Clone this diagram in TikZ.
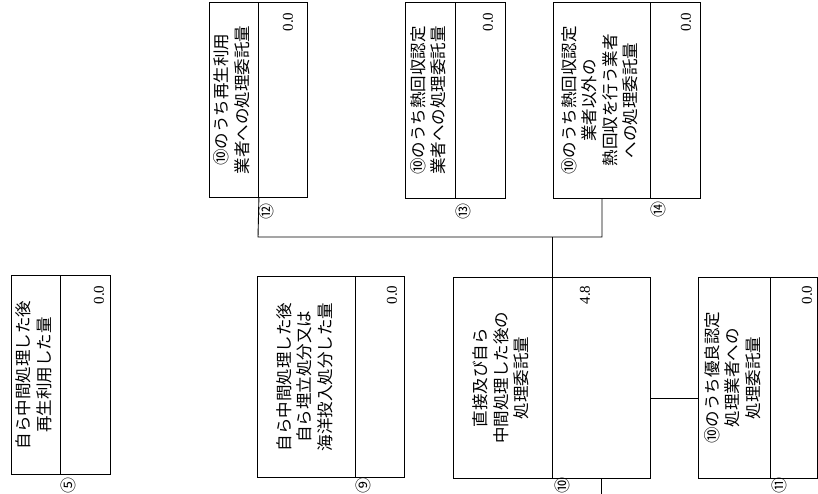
\documentclass[tikz,border=0pt]{standalone}
\usepackage{fontspec}
\usepackage{graphicx}
\newfontfamily\jp{Noto Sans CJK JP}
\newfontfamily\numf{Liberation Serif}
\tikzset{
 cell/.style={draw=black, line width=0.9pt, inner sep=0pt, anchor=north west, font=\jp\fontsize{16.5}{20.5}\selectfont},
 val/.style={inner sep=0pt, font=\numf\fontsize{15}{15}\selectfont},
 lab/.style={inner sep=0pt, font=\jp\fontsize{16}{16}\selectfont},
 wire/.style={draw=black, line width=0.9pt}
}
\newcommand\rt[1]{\rotatebox{90}{\begin{tabular}{@{}c@{}}#1\end{tabular}}}
\begin{document}
\begin{tikzpicture}[x=1pt,y=-1pt]
\useasboundingbox (0,0) rectangle (818,494);
\fill[white] (0,0) rectangle (818,494);
% bottom row
\node[cell, minimum width=49pt, minimum height=199pt] (b5t) at (11,275) {\rt{自ら中間処理した後\\再生利用した量}};
\node[cell, minimum width=50pt, minimum height=199pt] (b5v) at (60,275) {};
\node[cell, minimum width=98pt, minimum height=201pt] (b9t) at (257,276) {\rt{自ら中間処理した後\\自ら埋立処分又は\\海洋投入処分した量}};
\node[cell, minimum width=49pt, minimum height=201pt] (b9v) at (355,276) {};
\node[cell, minimum width=99pt, minimum height=201pt] (b10t) at (453,277) {\rt{直接及び自ら\\中間処理した後の\\処理委託量}};
\node[cell, minimum width=98pt, minimum height=201pt] (b10v) at (552,277) {};
\node[cell, minimum width=72pt, minimum height=201pt] (b11t) at (698,277) {\rt{⑩のうち優良認定\\処理業者への\\処理委託量}};
\node[cell, minimum width=47pt, minimum height=201pt] (b11v) at (770,277) {};
% top row
\node[cell, minimum width=49pt, minimum height=195pt] (b12t) at (209,2) {\rt{⑩のうち再生利用\\業者への処理委託量}};
\node[cell, minimum width=49pt, minimum height=195pt] (b12v) at (258,2) {};
\node[cell, minimum width=50pt, minimum height=196pt] (b13t) at (405,2) {\rt{⑩のうち熱回収認定\\業者への処理委託量}};
\node[cell, minimum width=50pt, minimum height=196pt] (b13v) at (455,2) {};
\node[cell, minimum width=97pt, minimum height=196pt] (b14t) at (553,2) {\rt{⑩のうち熱回収認定\\業者以外の\\熱回収を行う業者\\への処理委託量}};
\node[cell, minimum width=50pt, minimum height=196pt] (b14v) at (650,2) {};
% values
\node[val] (v5) at (99,295) {\rotatebox{90}{0.0}};
\node[val] (v9) at (392,295) {\rotatebox{90}{0.0}};
\node[val] (v10) at (585,295) {\rotatebox{90}{4.8}};
\node[val] (v11) at (807,295) {\rotatebox{90}{0.0}};
\node[val] (v12) at (288,22) {\rotatebox{90}{0.0}};
\node[val] (v13) at (488,22) {\rotatebox{90}{0.0}};
\node[val] (v14) at (686,22) {\rotatebox{90}{0.0}};
% labels
\node[lab] (l5) at (68,485) {\rotatebox{90}{⑤}};
\node[lab] (l9) at (363,485) {\rotatebox{90}{⑨}};
\node[lab] (l10) at (562,485) {\rotatebox{90}{⑩}};
\node[lab] (l11) at (779,485) {\rotatebox{90}{⑪}};
\node[lab] (l12) at (266,211) {\rotatebox{90}{⑫}};
\node[lab] (l13) at (463,211) {\rotatebox{90}{⑬}};
\node[lab] (l14) at (658,210) {\rotatebox{90}{⑭}};
% connectors
\coordinate (j1) at (258,237);
\coordinate (j2) at (602,237);
\draw[wire] (b12t.south east) -- (j1) -- (j2) -- (j2 |- b14t.south);
\draw[wire] (b10t.north east) -- (b10t.north east |- j1);
\coordinate (c11) at (650,398);
\draw[wire] (c11) -- (c11 -| b11t.west);
\coordinate (s10) at (601,494);
\draw[wire] (s10 |- b10v.south) -- (s10);
\end{tikzpicture}
\end{document}
